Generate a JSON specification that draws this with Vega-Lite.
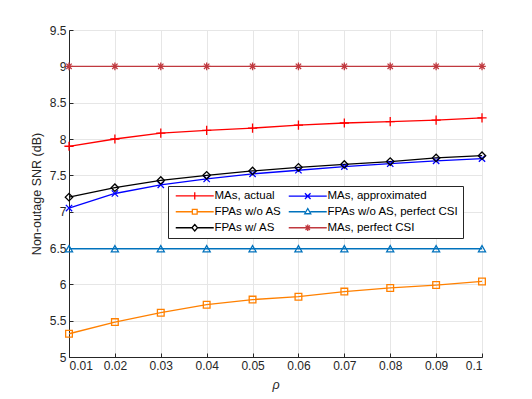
{
  "$schema": "https://vega.github.io/schema/vega-lite/v6.json",
  "width": 413,
  "height": 327,
  "autosize": {"type": "none"},
  "padding": {"left": 69, "top": 30, "right": 50, "bottom": 42},
  "background": "white",
  "config": {
    "font": "Liberation Sans",
    "view": {"stroke": "#262626", "strokeWidth": 1},
    "axis": {
      "labelFont": "Liberation Sans", "titleFont": "Liberation Sans",
      "labelFontSize": 12, "labelColor": "#262626", "titleColor": "#262626",
      "titleFontSize": 12.5, "titleFontWeight": "normal",
      "domainColor": "#262626", "tickColor": "#262626",
      "gridColor": "#e6e6e6", "gridOpacity": 1, "tickSize": -4, "labelPadding": 7
    }
  },
  "data": {"values": [
    {"rho": 0.01, "series": "MAs, actual", "snr": 7.9},
    {"rho": 0.02, "series": "MAs, actual", "snr": 8.0},
    {"rho": 0.03, "series": "MAs, actual", "snr": 8.08},
    {"rho": 0.04, "series": "MAs, actual", "snr": 8.12},
    {"rho": 0.05, "series": "MAs, actual", "snr": 8.15},
    {"rho": 0.06, "series": "MAs, actual", "snr": 8.19},
    {"rho": 0.07, "series": "MAs, actual", "snr": 8.22},
    {"rho": 0.08, "series": "MAs, actual", "snr": 8.24},
    {"rho": 0.09, "series": "MAs, actual", "snr": 8.26},
    {"rho": 0.1, "series": "MAs, actual", "snr": 8.29},
    {"rho": 0.01, "series": "MAs, approximated", "snr": 7.05},
    {"rho": 0.02, "series": "MAs, approximated", "snr": 7.25},
    {"rho": 0.03, "series": "MAs, approximated", "snr": 7.37},
    {"rho": 0.04, "series": "MAs, approximated", "snr": 7.45},
    {"rho": 0.05, "series": "MAs, approximated", "snr": 7.52},
    {"rho": 0.06, "series": "MAs, approximated", "snr": 7.57},
    {"rho": 0.07, "series": "MAs, approximated", "snr": 7.62},
    {"rho": 0.08, "series": "MAs, approximated", "snr": 7.66},
    {"rho": 0.09, "series": "MAs, approximated", "snr": 7.7},
    {"rho": 0.1, "series": "MAs, approximated", "snr": 7.73},
    {"rho": 0.01, "series": "FPAs w/o AS", "snr": 5.32},
    {"rho": 0.02, "series": "FPAs w/o AS", "snr": 5.48},
    {"rho": 0.03, "series": "FPAs w/o AS", "snr": 5.61},
    {"rho": 0.04, "series": "FPAs w/o AS", "snr": 5.72},
    {"rho": 0.05, "series": "FPAs w/o AS", "snr": 5.79},
    {"rho": 0.06, "series": "FPAs w/o AS", "snr": 5.83},
    {"rho": 0.07, "series": "FPAs w/o AS", "snr": 5.9},
    {"rho": 0.08, "series": "FPAs w/o AS", "snr": 5.95},
    {"rho": 0.09, "series": "FPAs w/o AS", "snr": 5.99},
    {"rho": 0.1, "series": "FPAs w/o AS", "snr": 6.04},
    {"rho": 0.01, "series": "FPAs w/o AS, perfect CSI", "snr": 6.49},
    {"rho": 0.02, "series": "FPAs w/o AS, perfect CSI", "snr": 6.49},
    {"rho": 0.03, "series": "FPAs w/o AS, perfect CSI", "snr": 6.49},
    {"rho": 0.04, "series": "FPAs w/o AS, perfect CSI", "snr": 6.49},
    {"rho": 0.05, "series": "FPAs w/o AS, perfect CSI", "snr": 6.49},
    {"rho": 0.06, "series": "FPAs w/o AS, perfect CSI", "snr": 6.49},
    {"rho": 0.07, "series": "FPAs w/o AS, perfect CSI", "snr": 6.49},
    {"rho": 0.08, "series": "FPAs w/o AS, perfect CSI", "snr": 6.49},
    {"rho": 0.09, "series": "FPAs w/o AS, perfect CSI", "snr": 6.49},
    {"rho": 0.1, "series": "FPAs w/o AS, perfect CSI", "snr": 6.49},
    {"rho": 0.01, "series": "FPAs w/ AS", "snr": 7.2},
    {"rho": 0.02, "series": "FPAs w/ AS", "snr": 7.33},
    {"rho": 0.03, "series": "FPAs w/ AS", "snr": 7.43},
    {"rho": 0.04, "series": "FPAs w/ AS", "snr": 7.5},
    {"rho": 0.05, "series": "FPAs w/ AS", "snr": 7.56},
    {"rho": 0.06, "series": "FPAs w/ AS", "snr": 7.61},
    {"rho": 0.07, "series": "FPAs w/ AS", "snr": 7.65},
    {"rho": 0.08, "series": "FPAs w/ AS", "snr": 7.69},
    {"rho": 0.09, "series": "FPAs w/ AS", "snr": 7.74},
    {"rho": 0.1, "series": "FPAs w/ AS", "snr": 7.77},
    {"rho": 0.01, "series": "MAs, perfect CSI", "snr": 9.0},
    {"rho": 0.02, "series": "MAs, perfect CSI", "snr": 9.0},
    {"rho": 0.03, "series": "MAs, perfect CSI", "snr": 9.0},
    {"rho": 0.04, "series": "MAs, perfect CSI", "snr": 9.0},
    {"rho": 0.05, "series": "MAs, perfect CSI", "snr": 9.0},
    {"rho": 0.06, "series": "MAs, perfect CSI", "snr": 9.0},
    {"rho": 0.07, "series": "MAs, perfect CSI", "snr": 9.0},
    {"rho": 0.08, "series": "MAs, perfect CSI", "snr": 9.0},
    {"rho": 0.09, "series": "MAs, perfect CSI", "snr": 9.0},
    {"rho": 0.1, "series": "MAs, perfect CSI", "snr": 9.0}
  ]},
  "encoding": {
    "x": {"field": "rho", "type": "quantitative",
      "scale": {"domain": [0.01, 0.1], "nice": false, "zero": false},
      "axis": {"values": [0.01, 0.02, 0.03, 0.04, 0.05, 0.06, 0.07, 0.08, 0.09, 0.1], "format": "~g", "title": "ρ", "titleFontStyle": "italic", "titlePadding": 7}},
    "y": {"field": "snr", "type": "quantitative",
      "scale": {"domain": [5, 9.5], "nice": false, "zero": false},
      "axis": {"values": [5, 5.5, 6, 6.5, 7, 7.5, 8, 8.5, 9, 9.5], "format": "~g", "title": "Non-outage SNR (dB)", "titlePadding": 6}},
    "color": {"field": "series", "type": "nominal",
      "scale": {
        "domain": ["MAs, actual", "FPAs w/o AS", "FPAs w/ AS", "MAs, approximated", "FPAs w/o AS, perfect CSI", "MAs, perfect CSI"],
        "range": ["#ff0000", "#ff8000", "#000000", "#0000ff", "#0072bd", "#c0393f"]},
      "legend": null}
  },
  "layer": [
    {
      "mark": {"type": "line", "strokeWidth": 1.3},
      "encoding": {
        "color": {"field": "series", "type": "nominal",
          "legend": {
            "orient": "none", "legendX": 99, "legendY": 156, "direction": "vertical", "columns": 2,
            "title": null, "labelFont": "Liberation Sans", "labelFontSize": 11.5, "labelColor": "#000000",
            "strokeColor": "#262626", "fillColor": "white", "padding": 4, "rowPadding": 3, "columnPadding": 3,
            "symbolSize": 16, "labelOffset": 31, "symbolStrokeWidth": 1.3, "labelLimit": 200,
            "encode": {"symbols": {"update": {
              "fill": {"value": "transparent"},
              "shape": {"signal": "datum.value == 'MAs, actual' ? 'M-1,0H18M8.5,-1.8V1.8' : datum.value == 'MAs, approximated' ? 'M-1,0H18M7.1,-1.4L9.9,1.4M7.1,1.4L9.9,-1.4' : datum.value == 'FPAs w/o AS' ? 'M-1,0H7.3M9.7,0H18M7.3,-1.2H9.7V1.2H7.3Z' : datum.value == 'FPAs w/o AS, perfect CSI' ? 'M-1,0H7.2M9.8,0H18M8.5,-1.6L10,1H7Z' : datum.value == 'FPAs w/ AS' ? 'M-1,0H7.1M9.9,0H18M8.5,-1.6L9.9,0L8.5,1.6L7.1,0Z' : 'M-1,0H18M6.9,0H10.1M8.5,-1.6V1.6M7.4,-1.1L9.6,1.1M7.4,1.1L9.6,-1.1'"}
            }}}
          }
        }
      }
    },
    {
      "transform": [{"filter": "datum.series == 'MAs, actual'"}],
      "mark": {"type": "point", "filled": false, "size": 50, "strokeWidth": 1.3, "opacity": 1, "shape": "M-1.3,0H1.3M0,-1.3V1.3"}
    },
    {
      "transform": [{"filter": "datum.series == 'MAs, approximated'"}],
      "mark": {"type": "point", "filled": false, "size": 40, "strokeWidth": 1.3, "opacity": 1, "shape": "M-1,-1L1,1M-1,1L1,-1"}
    },
    {
      "transform": [{"filter": "datum.series == 'FPAs w/o AS'"}],
      "mark": {"type": "point", "filled": false, "size": 45, "strokeWidth": 1.3, "opacity": 1, "shape": "square"}
    },
    {
      "transform": [{"filter": "datum.series == 'FPAs w/o AS, perfect CSI'"}],
      "mark": {"type": "point", "filled": false, "size": 50, "strokeWidth": 1.3, "opacity": 1, "shape": "triangle-up"}
    },
    {
      "transform": [{"filter": "datum.series == 'FPAs w/ AS'"}],
      "mark": {"type": "point", "filled": false, "size": 55, "strokeWidth": 1.3, "opacity": 1, "shape": "diamond"}
    },
    {
      "transform": [{"filter": "datum.series == 'MAs, perfect CSI'"}],
      "mark": {"type": "point", "filled": false, "size": 40, "strokeWidth": 1.3, "opacity": 1, "shape": "M-1.2,0H1.2M0,-1.2V1.2M-0.85,-0.85L0.85,0.85M-0.85,0.85L0.85,-0.85"}
    }
  ]
}
